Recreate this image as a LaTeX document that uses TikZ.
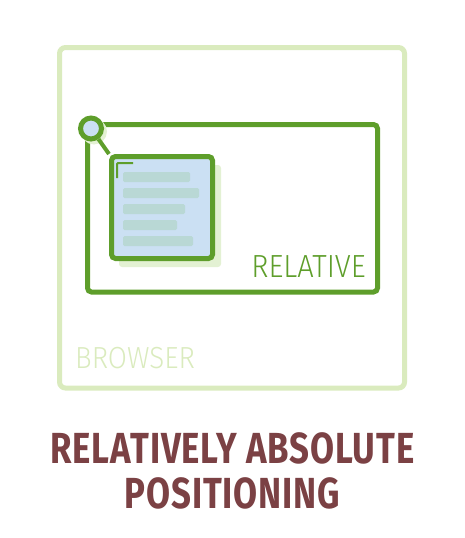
\documentclass[tikz,border=0pt]{standalone}
\usepackage{fontspec}
\setmainfont{Fira Sans}
\newfontfamily\titlefont[FakeStretch=0.8, LetterSpace=2]{Fira Sans Bold}
\newfontfamily\tagfont[FakeStretch=0.91]{Fira Sans Light}
\usepackage{xcolor}
\usetikzlibrary{positioning, calc}

\definecolor{browserGreen}{HTML}{DAEBBE}
\definecolor{relGreen}{HTML}{5E9E2B}
\definecolor{cardBlue}{HTML}{CBE0F3}
\definecolor{barTeal}{HTML}{B9D8D5}
\definecolor{shadowGreen}{HTML}{E3F1D3}
\definecolor{titleRed}{HTML}{7B4144}

\tikzset{
  frame/.style={draw, rectangle, line width=5pt, inner sep=0pt},
  bar/.style={fill=barTeal, rounded corners=1.5pt},
  tag/.style={inner sep=0pt, font=\tagfont\fontsize{32}{32}\selectfont},
  headline/.style={inner sep=0pt, text=titleRed, font=\titlefont\fontsize{43.5}{43.5}\selectfont}
}

\begin{document}
\begin{tikzpicture}[x=1pt, y=-1pt]
\useasboundingbox (0,0) rectangle (464,538);

% outer browser window
\node[frame, draw=browserGreen, rounded corners=6pt, minimum width=345pt, minimum height=340.5pt] (browser) at (232,217.75) {};
\node[tag, text=browserGreen, anchor=base west, font=\tagfont\fontsize{30.5}{30.5}\selectfont] (browserlbl) at (75,368) {BROWSER};

% relative container
\node[frame, draw=relGreen, rounded corners=4pt, minimum width=290pt, minimum height=167.5pt] (relative) at (232.5,208.25) {};
\node[tag, text=relGreen, anchor=base east] (relativelbl) at (366,277) {RELATIVE};

% absolute card with shadow
\fill[shadowGreen, rounded corners=3pt] (119,165) rectangle (221,267);
\node[frame, draw=relGreen, fill=cardBlue, rounded corners=4pt, minimum width=101pt, minimum height=102pt] (card) at (162,207.5) {};
\draw[relGreen, line width=2pt, rounded corners=1pt] (117,178) -- (117,163) -- (133,163);
\foreach \y/\x in {172/190, 188/199, 204/185, 220/177, 236/193}
  \fill[bar] (123,\y) rectangle (\x,\y+10);

% anchor dot
\fill[shadowGreen] (94,131.5) circle (13pt);
\node[circle, draw=relGreen, fill=cardBlue, line width=5pt, minimum size=21pt, inner sep=0pt] (dot) at (91,128.5) {};
\draw[relGreen, line width=4pt] (dot) -- (card.north west);

% caption
\node[headline, anchor=base] (title1) at (232.5,463) {RELATIVELY ABSOLUTE};
\node[headline, anchor=base] (title2) at (232.5,508) {POSITIONING};

\end{tikzpicture}
\end{document}
